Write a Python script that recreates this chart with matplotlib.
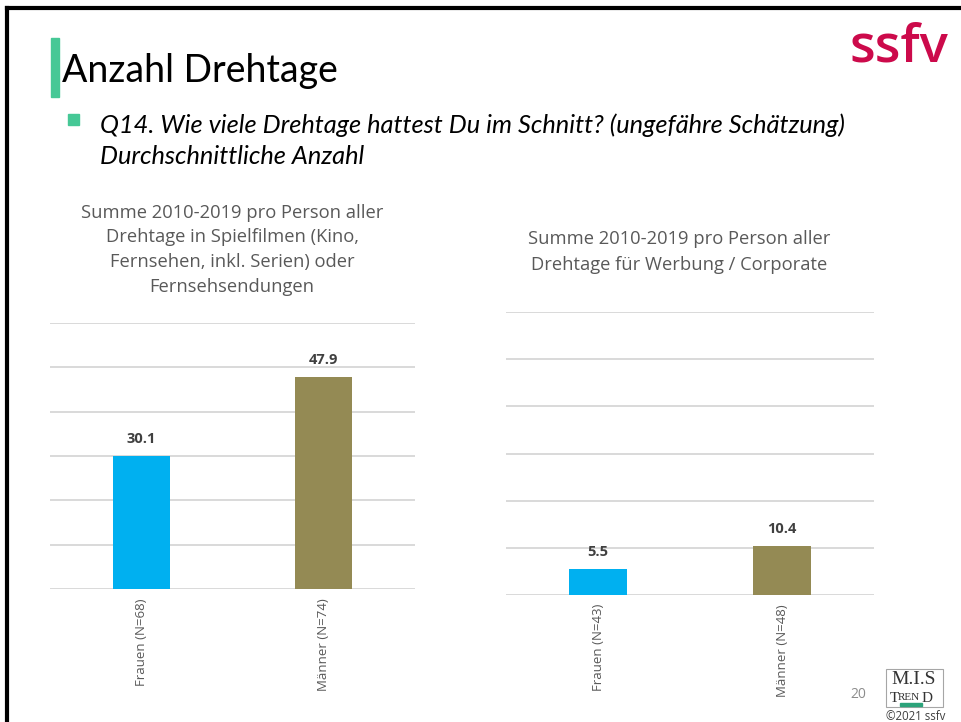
import matplotlib.pyplot as plt
from matplotlib.patches import Rectangle

# data
left_categories = ["Frauen (N=68)", "Männer (N=74)"]
left_values = [30.1, 47.9]
right_categories = ["Frauen (N=43)", "Männer (N=48)"]
right_values = [5.5, 10.4]
bar_colors = ["#00B0F0", "#948A54"]

left_title = ("Summe 2010-2019 pro Person aller\nDrehtage in Spielfilmen (Kino,\n"
              "Fernsehen, inkl. Serien) oder\nFernsehsendungen")
right_title = "Summe 2010-2019 pro Person aller\nDrehtage für Werbung / Corporate"
question = ("Q14. Wie viele Drehtage hattest Du im Schnitt? (ungefähre Schätzung)\n"
            "Durchschnittliche Anzahl")

GREEN = "#46C896"
GRAY = "#595959"


def bar_panel(ax, categories, values, width):
    """Draw one bar chart in the slide's Excel style."""
    x = range(len(categories))
    bars = ax.bar(x, values, width=width, color=bar_colors, zorder=3)
    ax.set_xlim(-0.5, 1.5)
    ax.set_ylim(0, 60)
    ax.set_yticks(range(0, 61, 10))
    ax.yaxis.grid(True, color="#D9D9D9", linewidth=1.4, zorder=0)
    ax.tick_params(axis="y", left=False, labelleft=False)
    ax.tick_params(axis="x", bottom=False, pad=3)
    ax.set_xticks(list(x))
    ax.set_xticklabels(categories, rotation=90, color=GRAY, fontsize=9.5,
                       family="Open Sans")
    for s in ax.spines.values():
        s.set_visible(False)
    for b, v in zip(bars, values):
        ax.annotate(f"{v:.1f}", (b.get_x() + b.get_width() / 2, v),
                    xytext=(0, 7), textcoords="offset points",
                    ha="center", va="bottom", fontsize=10.5, fontweight="bold",
                    color="#404040", family="Open Sans")


fig = plt.figure(figsize=(9.61, 7.22), dpi=100)
W, H = 961, 722


def px(x, y):
    return x / W, 1 - y / H


# slide frame (top and left edges)
fig.add_artist(plt.Line2D([7 / W, 7 / W], [0, 1 - 8 / H], color="black", lw=3))
fig.add_artist(plt.Line2D([7 / W, 1], [1 - 8 / H, 1 - 8 / H], color="black", lw=3))

# title with green accent bar
fig.add_artist(Rectangle(px(51, 97), 8 / W, 59 / H, color=GREEN))
fig.text(*px(62, 71), "Anzahl Drehtage", fontsize=27, family="Lato",
         va="center", ha="left", color="black")
fig.text(*px(850, 62), "ssfv", fontsize=38, family="Open Sans",
         fontweight="semibold", color="#CC0A4B", va="baseline", ha="left")

# question bullet
fig.add_artist(Rectangle(px(68, 125), 11 / W, 11 / H, color=GREEN))
fig.text(*px(100, 141), question, fontsize=18.3, family="Lato", style="italic",
         va="center", ha="left", linespacing=1.43)

# chart titles
fig.text(*px(232, 250), left_title, fontsize=13.2, family="Open Sans",
         color=GRAY, ha="center", va="center", linespacing=1.5)
fig.text(*px(679, 252), right_title, fontsize=13.2, family="Open Sans",
         color=GRAY, ha="center", va="center", linespacing=1.5)

ax1 = fig.add_axes([50 / W, 1 - 589 / H, 365 / W, 266 / H])
bar_panel(ax1, left_categories, left_values, 0.31)
ax2 = fig.add_axes([506 / W, 1 - 595 / H, 368 / W, 283 / H])
bar_panel(ax2, right_categories, right_values, 0.32)

# footer: page number and logo
fig.text(*px(858, 694), "20", fontsize=10, family="Open Sans",
         color="#8C8C8C", ha="center", va="center")
fig.add_artist(Rectangle(px(886, 707), 57 / W, 38 / H, fill=False,
                         edgecolor="#A6A6A6", lw=0.8))
fig.text(*px(914, 684), "M.I.S", fontsize=14, family="Liberation Serif",
         ha="center", va="baseline", color="#333333")
fig.text(*px(890, 702), "T", fontsize=11, family="Liberation Serif",
         ha="left", va="baseline", color="#333333")
fig.text(*px(898, 700), "REN", fontsize=8, family="Liberation Serif",
         ha="left", va="baseline", color="#333333")
fig.text(*px(922, 702), "D", fontsize=11, family="Liberation Serif",
         ha="left", va="baseline", color="#333333")
fig.add_artist(Rectangle(px(900, 706), 22 / W, 3 / H, color="#2BA37A"))
fig.text(*px(916, 716), "©2021 ssfv", fontsize=8.3, family="Open Sans",
         ha="center", va="center", color="#404040")

fig.savefig("out.png", dpi=100)
